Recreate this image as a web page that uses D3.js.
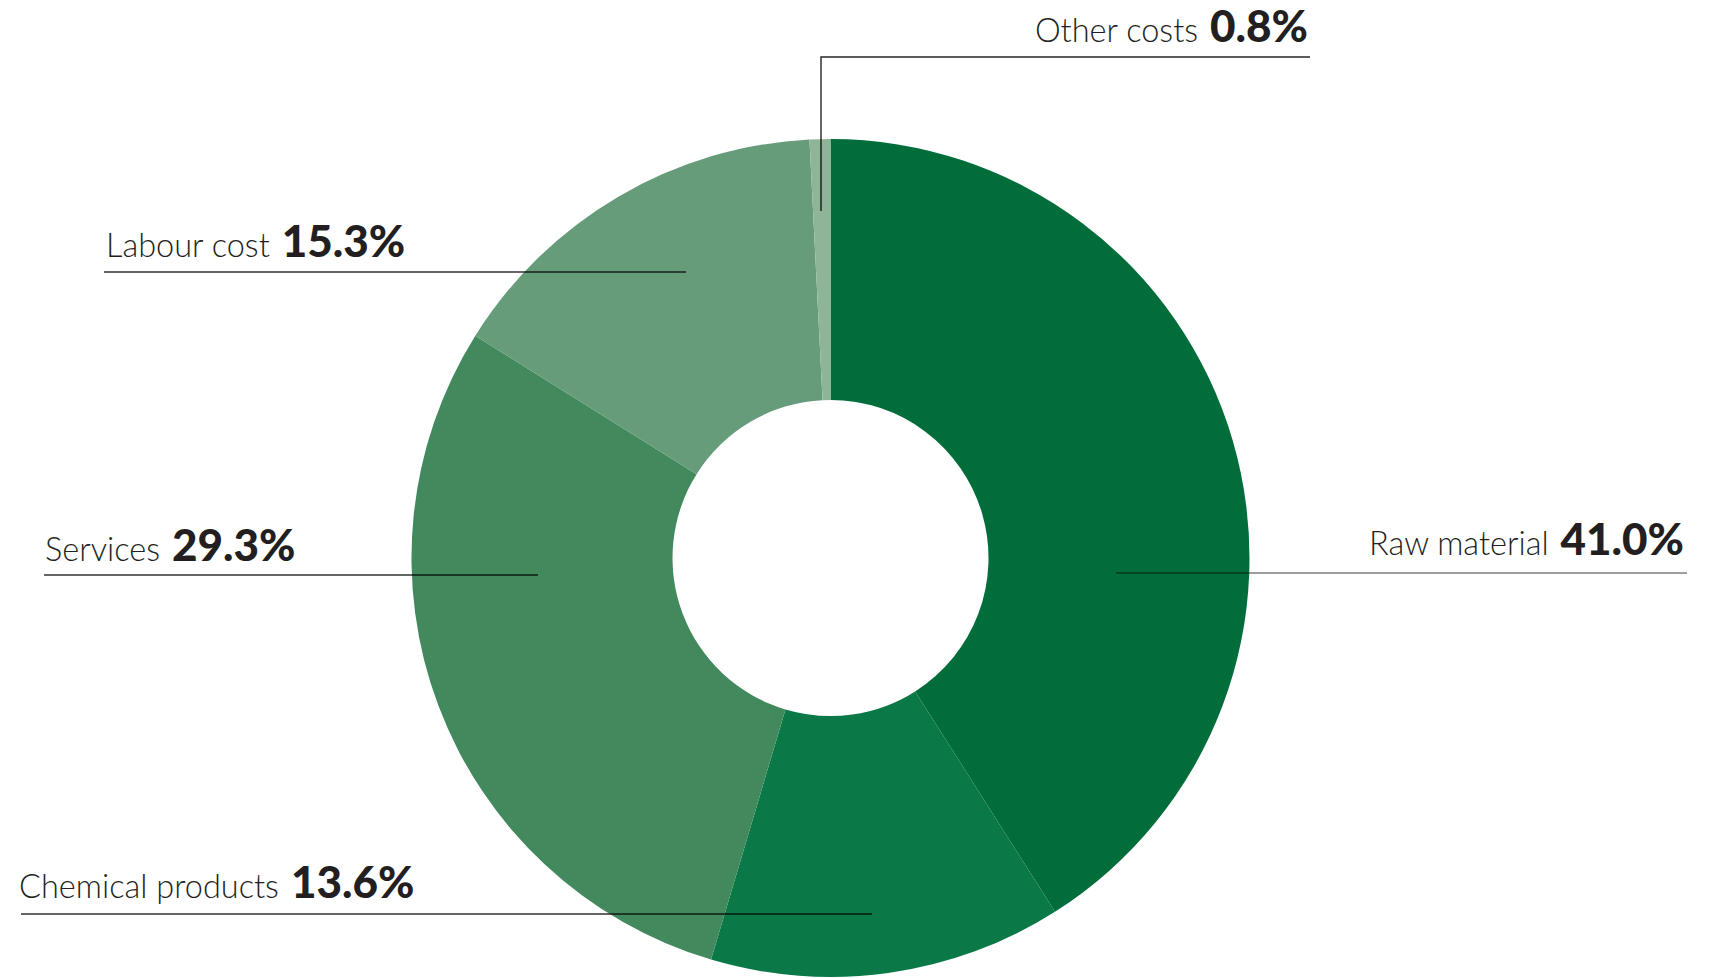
<!DOCTYPE html>
<html>
<head>
<meta charset="utf-8">
<script src="https://cdn.jsdelivr.net/npm/d3@7"></script>
<style>
  body { margin: 0; background: #fff; }
  svg { display: block; }
  text { font-family: Lato, "Open Sans", sans-serif; fill: #231f20; }
</style>
</head>
<body>
<svg width="1718" height="978"></svg>
<script>
// data
var categories = ["Raw material", "Chemical products", "Services", "Labour cost", "Other costs"];
var values = [41.0, 13.6, 29.3, 15.3, 0.8];
var colors = ["#006d3a", "#0b7947", "#42895e", "#669c7a", "#8fb598"];

var width = 1718, height = 978;
var cx = 830.5, cy = 558, outerR = 419, innerR = 158;

var svg = d3.select("svg");

var pie = d3.pie().sort(null).value(function(d) { return d; });
var arc = d3.arc().innerRadius(innerR).outerRadius(outerR);
var arcs = pie(values);

var g = svg.append("g")
  .attr("transform", "translate(" + cx + "," + cy + ")");

g.selectAll("path")
  .data(arcs)
  .enter().append("path")
  .attr("d", arc)
  .attr("fill", function(d, i) { return colors[i]; });

// leader lines + labels, hand placed like the original layout
var labels = [
  { i: 0, tx: 1684, ty: 555, anchor: "end", line: [[1116, 573], [1687, 573]], op: 0.5 },
  { i: 1, tx: 19, ty: 898, anchor: "start", line: [[21, 914], [872, 914]], op: 0.8 },
  { i: 2, tx: 45, ty: 561, anchor: "start", line: [[44, 575], [538, 575]], op: 0.8 },
  { i: 3, tx: 106, ty: 257, anchor: "start", line: [[104, 272], [686, 272]], op: 0.8 },
  { i: 4, tx: 1308, ty: 42, anchor: "end", line: [[821, 211], [821, 57], [1310, 57]], op: 0.85 }
];

var line = d3.line();

svg.selectAll(".leader")
  .data(labels)
  .enter().append("path")
  .attr("class", "leader")
  .attr("d", function(d) { return line(d.line); })
  .attr("fill", "none")
  .attr("stroke", "#000")
  .attr("stroke-opacity", function(d) { return d.op; })
  .attr("stroke-width", 1.4);

var t = svg.selectAll(".lbl")
  .data(labels)
  .enter().append("text")
  .attr("class", "lbl")
  .attr("x", function(d) { return d.tx; })
  .attr("y", function(d) { return d.ty; })
  .attr("text-anchor", function(d) { return d.anchor; });

t.append("tspan")
  .attr("font-size", 32.5)
  .attr("font-weight", 300)
  .text(function(d) { return categories[d.i]; });

t.append("tspan")
  .attr("dx", 12)
  .attr("font-size", 44)
  .attr("font-weight", 900)
  .text(function(d) { return values[d.i].toFixed(1) + "%"; });
</script>
</body>
</html>
